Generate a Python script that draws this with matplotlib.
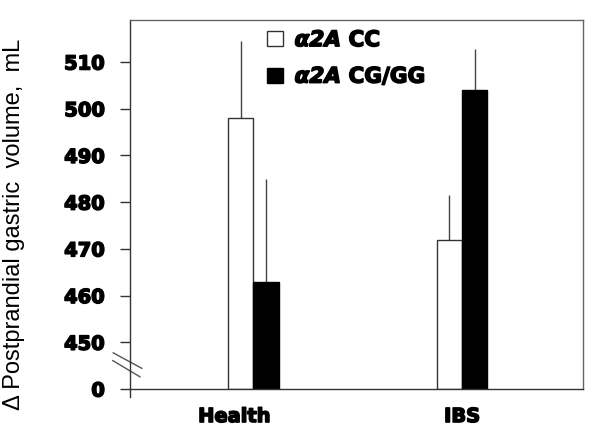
import numpy as np
import matplotlib
matplotlib.use("Agg")
import matplotlib.pyplot as plt
import matplotlib.patheffects as pe
from matplotlib.patches import Patch
from matplotlib.transforms import ScaledTranslation

# ---- data ----
categories = ["Health", "IBS"]
cc_values = [498, 472]
cc_err = [16.5, 9.6]
cg_values = [463, 504]
cg_err = [22, 8.8]
series_labels = [r"$\mathbfit{\alpha 2A}$ CC", r"$\mathbfit{\alpha 2A}$ CG/GG"]
ytick_values = [0, 450, 460, 470, 480, 490, 500, 510]
ytick_labels = ["0", "450", "460", "470", "480", "490", "500", "510"]
ylabel = "Δ Postprandial gastric  volume,  mL"

plt.rcParams["mathtext.fontset"] = "custom"
plt.rcParams["mathtext.bfit"] = "DejaVu Sans:italic:bold"
plt.rcParams["mathtext.bf"] = "DejaVu Sans:bold"

# broken axis: 0 is drawn one tick-step below 450
BREAK_LO, BREAK_HI = 440.0, 450.0
def fwd(v):
    v = np.asarray(v, dtype=float)
    return np.where(v >= BREAK_HI, v, BREAK_LO + v * (BREAK_HI - BREAK_LO) / BREAK_HI)
def inv(y):
    y = np.asarray(y, dtype=float)
    return np.where(y >= BREAK_HI, y, (y - BREAK_LO) * BREAK_HI / (BREAK_HI - BREAK_LO))

heavy = [pe.withStroke(linewidth=1.1, foreground="black")]

fig = plt.figure(figsize=(6.01, 4.44), dpi=100)
ax = fig.add_axes([130/601, 1 - 389/444, (583-130)/601, (389-20)/444])
ax.set_yscale("function", functions=(fwd, inv))

x = np.arange(len(categories))
w = 0.122
edge = "#333333"
b1 = ax.bar(x - w/2, cc_values, w, color="white", edgecolor=edge, linewidth=1, zorder=2)
b2 = ax.bar(x + w/2, cg_values, w, color="black", edgecolor="black", linewidth=1, zorder=2)
ax.errorbar(x - w/2, cc_values, yerr=[np.zeros(len(cc_err)), cc_err], fmt="none",
            ecolor="#444444", elinewidth=1, capsize=0, zorder=1)
ax.errorbar(x + w/2, cg_values, yerr=[np.zeros(len(cg_err)), cg_err], fmt="none",
            ecolor="#444444", elinewidth=1, capsize=0, zorder=1)

ax.set_xlim(-0.592, 1.580)
ax.set_ylim(0, 519)
ax.set_yticks(ytick_values)
ax.set_yticklabels(ytick_labels, fontfamily="DejaVu Sans", fontweight="bold", fontsize=14)
ax.set_xticks(x)
ax.set_xticklabels(categories, fontfamily="DejaVu Sans", fontweight="bold", fontsize=14)
ax.tick_params(axis="y", direction="out", length=7.2, width=1, color=edge, pad=11)
ax.tick_params(axis="x", length=0, pad=13)
ax.yaxis.set_minor_locator(matplotlib.ticker.NullLocator())
for t in ax.get_yticklabels() + ax.get_xticklabels():
    t.set_path_effects(heavy)
# the "Health" label sits a little left of its bar pair in the original
hl = ax.get_xticklabels()[0]
hl.set_transform(hl.get_transform() + ScaledTranslation(-19/100, 0, fig.dpi_scale_trans))

for s in ax.spines.values():
    s.set_color(edge)
    s.set_linewidth(1)
ax.spines["top"].set_color("#666666")
ax.spines["right"].set_color("#666666")

ax.set_ylabel(ylabel, fontfamily="Liberation Sans", fontsize=17)
ax.yaxis.set_label_coords(-0.232, 0.447)

# axis break marks and the short downward extension of the y axis
kw = dict(transform=ax.transAxes, color="#555555", linewidth=1, clip_on=False)
ax.plot([-0.037, 0.026], [0.098, 0.056], **kw)
ax.plot([-0.038, 0.022], [0.077, 0.033], **kw)
ax.plot([0, 0], [0, -0.022], transform=ax.transAxes, color=edge, linewidth=1, clip_on=False)

handles = [Patch(facecolor="white", edgecolor=edge, linewidth=1),
           Patch(facecolor="black", edgecolor="black")]
leg = ax.legend(handles, series_labels, loc="upper left", bbox_to_anchor=(0.303, 0.972),
                frameon=False, prop=dict(family="DejaVu Sans", weight="bold", size=15.5),
                handlelength=0.72, handleheight=0.72, handletextpad=0.55,
                labelspacing=0.72, borderpad=0, borderaxespad=0)
for t in leg.get_texts():
    t.set_path_effects(heavy)

fig.savefig("out.png", dpi=100)
